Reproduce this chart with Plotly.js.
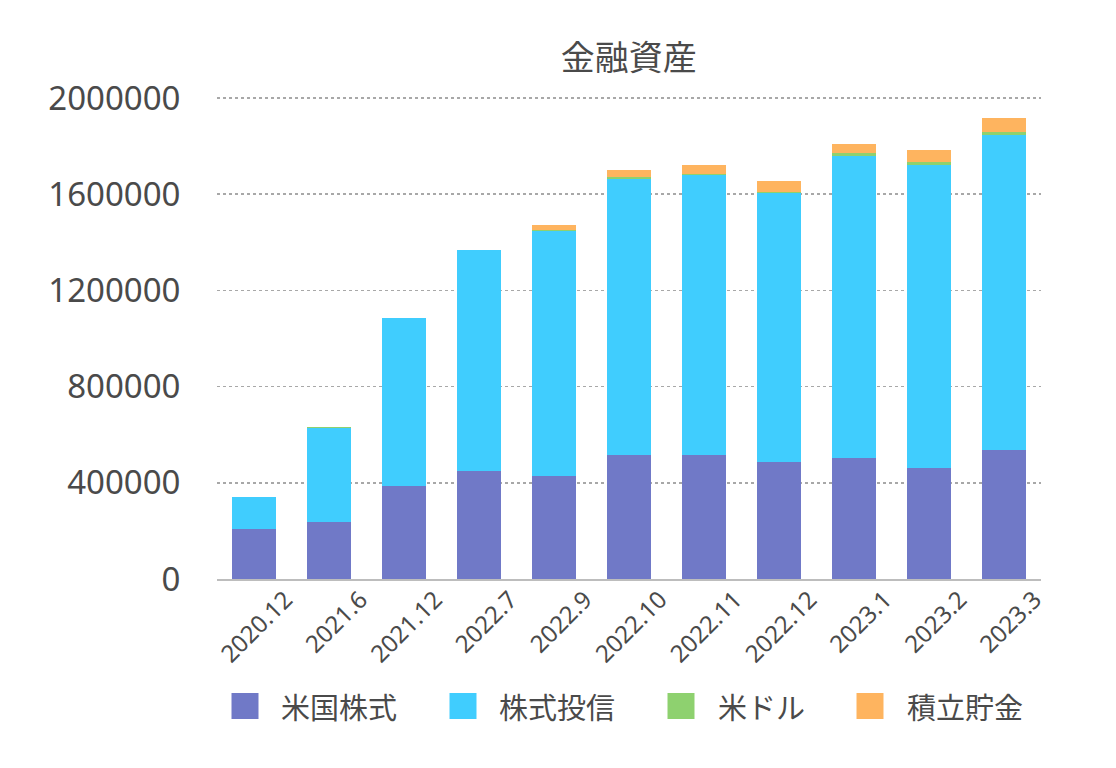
<!DOCTYPE html>
<html>
<head>
<meta charset="utf-8">
<script src="https://cdn.plot.ly/plotly-3.0.1.min.js"></script>
<style>
  html, body { margin: 0; padding: 0; background: #ffffff; }
  #chart { width: 1116px; height: 768px; }
</style>
</head>
<body>
<div id="chart"></div>
<script>
// ---- data ----
const categories = ["2020.12", "2021.6", "2021.12", "2022.7", "2022.9", "2022.10", "2022.11", "2022.12", "2023.1", "2023.2", "2023.3"];
const seriesNames = ["米国株式", "株式投信", "米ドル", "積立貯金"];
const usStocks   = [207000, 236000, 386000, 449000, 428000, 515000, 515000, 486000, 503000, 461000, 536000];
const stockFunds = [133000, 393000, 700000, 921000, 1021000, 1150000, 1164000, 1117000, 1254000, 1260000, 1310000];
const usDollar   = [0, 3000, 0, 0, 4000, 8000, 7000, 8000, 14000, 11000, 11000];
const savings    = [0, 0, 0, 0, 21000, 29000, 37500, 42000, 36000, 50000, 58000];
const yTickVals  = [0, 400000, 800000, 1200000, 1600000, 2000000];
const chartTitle = "金融資産";

// ---- styles ----
const colors = ["#7079C7", "#40CDFE", "#8ED16F", "#FEB45F"];
const seriesValues = [usStocks, stockFunds, usDollar, savings];
const W = 1116, H = 768;
const M = { l: 217, r: 75, t: 96, b: 189 };
const PW = W - M.l - M.r, PH = H - M.t - M.b;
const yMax = 2000000 * (PH / (PH - 2));
const textColor = "#4a4a4a";
const cjkFont = "'Noto Sans CJK JP', 'Noto Sans', sans-serif";
const numFont = "'Noto Sans', 'Noto Sans CJK JP', sans-serif";

const traces = seriesNames.map((name, i) => ({
  type: "bar",
  name: name,
  x: categories,
  y: seriesValues[i],
  marker: { color: colors[i], line: { width: 0 } },
  showlegend: false,
  hoverinfo: "x+y+name"
}));

// ---- custom legend (large square swatches like the reference) ----
const legendFontSize = 29;
function textWidth(str, size, family) {
  const c = document.createElement("canvas").getContext("2d");
  c.font = size + "px " + family;
  return c.measureText(str).width;
}
const px2x = px => (px - M.l) / PW;
const px2y = py => (M.t + PH - py) / PH;
const sw = 27, sh = 26, swGap = 21, itemGap = 54;
const legendCenterY = 706;
const widths = seriesNames.map(n => textWidth(n, legendFontSize, cjkFont));
const totalW = widths.reduce((a, w) => a + sw + swGap + w, 0) + itemGap * (seriesNames.length - 1);
let cursor = 626 - totalW / 2;
const shapes = [];
const annotations = [];
seriesNames.forEach((name, i) => {
  shapes.push({
    type: "rect", xref: "paper", yref: "paper",
    x0: px2x(cursor), x1: px2x(cursor + sw),
    y0: px2y(legendCenterY + sh / 2), y1: px2y(legendCenterY - sh / 2),
    fillcolor: colors[i], line: { width: 0 }
  });
  annotations.push({
    xref: "paper", yref: "paper",
    x: px2x(cursor + sw + swGap), y: px2y(legendCenterY),
    xanchor: "left", yanchor: "middle",
    text: name, showarrow: false,
    font: { family: cjkFont, size: legendFontSize, color: textColor }
  });
  cursor += sw + swGap + widths[i] + itemGap;
});

const layout = {
  width: W, height: H,
  margin: M,
  paper_bgcolor: "#ffffff",
  plot_bgcolor: "#ffffff",
  barmode: "stack",
  bargap: 0.413,
  showlegend: false,
  title: {
    text: chartTitle,
    x: 0.5635, xref: "container", xanchor: "center",
    y: 1 - 58 / H, yref: "container", yanchor: "middle",
    font: { family: cjkFont, size: 34, color: textColor }
  },
  xaxis: {
    type: "category",
    tickangle: -45,
    tickfont: { family: numFont, size: 24, color: textColor },
    showline: true, linecolor: "#bdbdbd", linewidth: 2,
    showgrid: false, zeroline: false,
    ticks: "",
    ticklabelstandoff: -5,
    ticklabelshift: 31
  },
  yaxis: {
    range: [0, yMax],
    tickvals: yTickVals,
    ticktext: yTickVals.map(v => String(v)),
    tickfont: { family: numFont, size: 33, color: textColor },
    showgrid: true, gridcolor: "#a8a8a8", gridwidth: 1.5, griddash: "dot",
    zeroline: false, showline: false,
    ticks: "outside", ticklen: 29, tickcolor: "rgba(0,0,0,0)"
  },
  shapes: shapes,
  annotations: annotations
};

Plotly.newPlot("chart", traces, layout, { displayModeBar: false, staticPlot: true });
</script>
</body>
</html>
